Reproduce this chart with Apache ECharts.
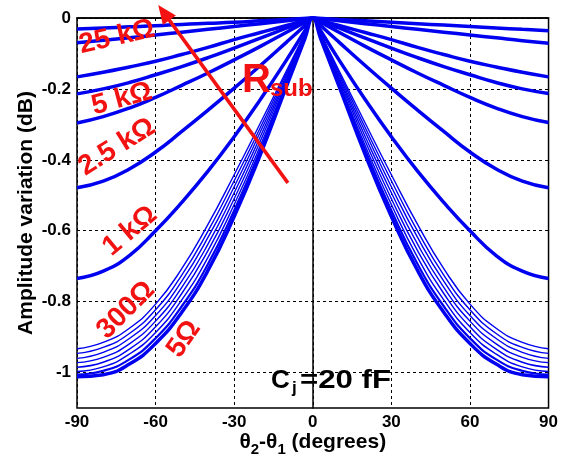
<!DOCTYPE html>
<html><head><meta charset="utf-8">
<script src="https://cdn.jsdelivr.net/npm/echarts@6/dist/echarts.min.js"></script>
<style>html,body{margin:0;padding:0;background:#fff}#c{width:561px;height:463px}</style>
</head><body><div id="c"></div>
<script>
// ---- data ----
const theta = [-90,-80,-70,-60,-50,-40,-30,-20,-10,-3,0,3,10,20,30,40,50,60,70,80,90];
const xTicks = [-90,-60,-30,0,30,60,90];
const yTicks = [-1,-0.8,-0.6,-0.4,-0.2,0];

const curveA = [-0.031,-0.028,-0.025,-0.022,-0.018,-0.015,-0.012,-0.008,-0.004,-0.001,0,-0.001,-0.004,-0.008,-0.012,-0.016,-0.020,-0.024,-0.028,-0.032,-0.036];
const curveB = [-0.070,-0.063,-0.056,-0.048,-0.040,-0.032,-0.024,-0.016,-0.008,-0.002,0,-0.002,-0.008,-0.016,-0.024,-0.032,-0.040,-0.048,-0.056,-0.064,-0.071];
const curveC = [-0.166,-0.153,-0.138,-0.122,-0.103,-0.083,-0.061,-0.041,-0.021,-0.006,0,-0.006,-0.021,-0.041,-0.061,-0.083,-0.103,-0.122,-0.138,-0.153,-0.166];
const curveD = [-0.214,-0.200,-0.182,-0.160,-0.137,-0.112,-0.085,-0.057,-0.028,-0.008,0,-0.008,-0.028,-0.057,-0.085,-0.112,-0.137,-0.160,-0.182,-0.200,-0.213];
const curveE = [-0.296,-0.278,-0.254,-0.224,-0.190,-0.155,-0.118,-0.080,-0.040,-0.012,0,-0.012,-0.040,-0.080,-0.118,-0.155,-0.190,-0.224,-0.254,-0.278,-0.295];
const curveF = [-0.479,-0.460,-0.426,-0.378,-0.320,-0.260,-0.198,-0.134,-0.068,-0.021,0,-0.021,-0.068,-0.134,-0.198,-0.260,-0.320,-0.378,-0.426,-0.460,-0.479];
const curveG = [-0.735,-0.714,-0.670,-0.600,-0.520,-0.432,-0.335,-0.230,-0.118,-0.036,0,-0.036,-0.118,-0.230,-0.335,-0.432,-0.520,-0.600,-0.670,-0.714,-0.735];

const g300 = [-0.933,-0.915,-0.875,-0.807,-0.707,-0.582,-0.442,-0.296,-0.148,-0.044,0,-0.044,-0.148,-0.296,-0.442,-0.582,-0.707,-0.807,-0.875,-0.915,-0.933];
const g2 = [-0.946,-0.929,-0.890,-0.823,-0.725,-0.601,-0.459,-0.309,-0.154,-0.046,0,-0.046,-0.154,-0.309,-0.459,-0.601,-0.725,-0.823,-0.890,-0.929,-0.946];
const g3 = [-0.960,-0.943,-0.904,-0.839,-0.742,-0.619,-0.476,-0.321,-0.161,-0.048,0,-0.048,-0.161,-0.321,-0.476,-0.619,-0.742,-0.839,-0.904,-0.943,-0.960];
const g4 = [-0.972,-0.957,-0.919,-0.855,-0.760,-0.638,-0.493,-0.334,-0.167,-0.050,0,-0.050,-0.167,-0.334,-0.493,-0.638,-0.760,-0.855,-0.919,-0.957,-0.972];
const g5 = [-0.985,-0.971,-0.934,-0.871,-0.777,-0.656,-0.510,-0.347,-0.173,-0.052,0,-0.052,-0.173,-0.347,-0.510,-0.656,-0.777,-0.871,-0.934,-0.971,-0.985];
const g6 = [-0.997,-0.984,-0.948,-0.887,-0.795,-0.675,-0.526,-0.360,-0.180,-0.054,0,-0.054,-0.180,-0.360,-0.526,-0.675,-0.795,-0.887,-0.948,-0.984,-0.997];
const g7 = [-1.006,-0.995,-0.963,-0.903,-0.813,-0.694,-0.543,-0.372,-0.186,-0.056,0,-0.056,-0.186,-0.372,-0.543,-0.694,-0.813,-0.903,-0.963,-0.995,-1.006];
const g5ohm = [-1.012,-1.006,-0.976,-0.918,-0.830,-0.712,-0.560,-0.385,-0.192,-0.058,0,-0.058,-0.192,-0.385,-0.560,-0.712,-0.830,-0.918,-0.976,-1.006,-1.012];

const curves = [
  {name:'A', v:curveA, w:3.5}, {name:'B', v:curveB, w:3.5}, {name:'C', v:curveC, w:3.5},
  {name:'D', v:curveD, w:3.5}, {name:'E', v:curveE, w:3.5}, {name:'F', v:curveF, w:3.5},
  {name:'G', v:curveG, w:3.5},
  {name:'300', v:g300, w:1.4}, {name:'g2', v:g2, w:1.4}, {name:'g3', v:g3, w:1.4},
  {name:'g4', v:g4, w:1.4}, {name:'g5', v:g5, w:1.4}, {name:'g6', v:g6, w:1.4},
  {name:'g7', v:g7, w:2.2}, {name:'5', v:g5ohm, w:3.5}
];

const FONT = '"Liberation Sans", Arial, sans-serif';
const BLUE = '#0000f0';
const RED = '#f21212';

const chart = echarts.init(document.getElementById('c'), null, {renderer:'canvas'});
const series = curves.map(c => ({
  name: c.name, type: 'line', showSymbol: false, smooth: 0.5, silent: true,
  data: theta.map((t,i) => [t, c.v[i]]),
  lineStyle: {color: BLUE, width: c.w}, itemStyle:{color: BLUE}
}));

chart.setOption({
  animation: false,
  grid: {left: 77, right: 8, top: 18, bottom: 55, show: true, borderColor: '#000', borderWidth: 1.5, backgroundColor: '#fff'},
  xAxis: {
    type: 'value', min: xTicks[0], max: xTicks[xTicks.length-1], interval: 30,
    axisLine: {show: true, lineStyle: {color: '#000', width: 1.5}},
    axisTick: {show: false},
    axisLabel: {color: '#000', fontFamily: FONT, fontWeight: 'bold', fontSize: 17, margin: 6},
    splitLine: {show: true, lineStyle: {color: '#000', type: [3,3], width: 1}},
    name: '{t|θ}{s|2}{t|-θ}{s|1}{t| (degrees)}',
    nameLocation: 'middle', nameGap: 24, nameMoveOverlap: false,
    nameTextStyle: {color:'#000', rich: {
      t: {fontFamily: FONT, fontWeight:'bold', fontSize: 21, color:'#000', verticalAlign:'top', lineHeight: 22},
      s: {fontFamily: FONT, fontWeight:'bold', fontSize: 15, color:'#000', verticalAlign:'top', lineHeight: 16, padding:[10,0,0,0]}
    }}
  },
  yAxis: {
    type: 'value', min: -1.1, max: 0, interval: 0.1,
    axisLine: {show: true, lineStyle: {color: '#000', width: 1.5}},
    axisTick: {show: false},
    axisLabel: {color: '#000', fontFamily: FONT, fontWeight: 'bold', fontSize: 17, margin: 6,
      formatter: v => { const k = Math.round(v*10); return (k % 2 === 0) ? String(k/10) : ''; }},
    splitLine: {show: true, lineStyle: {color: ['rgba(0,0,0,0)', '#000'], type: [3,3], width: 1}},
    name: 'Amplitude variation (dB)', nameLocation: 'middle', nameRotate: 90, nameGap: 40, nameMoveOverlap: false,
    nameTextStyle: {color:'#000', fontFamily: FONT, fontWeight:'bold', fontSize: 21}
  },
  series: series
});

// annotation: Rsub arrow, from data-space endpoints
const arrowFrom = [-9.5, -0.465];
const arrowTo = [-59, 0.037];
const p0 = chart.convertToPixel({gridIndex:0}, arrowFrom);
const p1 = chart.convertToPixel({gridIndex:0}, arrowTo);
const dx = p1[0]-p0[0], dy = p1[1]-p0[1], L = Math.hypot(dx,dy);
const ux = dx/L, uy = dy/L, headL = 19, headW = 8;
const bx = p1[0]-ux*headL, by = p1[1]-uy*headL;
const txt = (s, x, y, rotDeg, size, color, extra) => Object.assign({
  type:'text', x:x, y:y, rotation: rotDeg*Math.PI/180, z: 100,
  style:{text:s, fill: color, font: 'bold '+size+'px '+FONT, align:'center', verticalAlign:'middle'}
}, extra||{});

chart.setOption({
  graphic: [
    {type:'line', z:90, shape:{x1:p0[0], y1:p0[1], x2:bx+ux*2, y2:by+uy*2}, style:{stroke: RED, lineWidth: 3.5}},
    {type:'polygon', z:90, shape:{points:[[p1[0],p1[1]],[bx - uy*headW, by + ux*headW],[bx + uy*headW, by - ux*headW]]}, style:{fill: RED}},
    txt('25 kΩ', 117, 37, 13, 28, RED),
    txt('5 kΩ', 122, 99, 15, 28, RED),
    txt('2.5 kΩ', 117, 147, 32, 28, RED),
    txt('1 kΩ', 130, 231, 40, 28, RED),
    txt('300Ω', 126, 310, 45, 28, RED),
    txt('5Ω', 184, 339, 55, 28, RED),
    {type:'text', z:100, x:242, y:81, style:{text:'R', fill:RED, font:'bold 40px '+FONT, align:'left', verticalAlign:'middle'}},
    {type:'text', z:100, x:270, y:89, style:{text:'sub', fill:RED, font:'bold 24px '+FONT, align:'left', verticalAlign:'middle'}},
    {type:'text', z:100, x:271, y:381, style:{text:'C', fill:'#000', font:'bold 26px '+FONT, align:'left', verticalAlign:'middle'}},
    {type:'text', z:100, x:292, y:388, style:{text:'j', fill:'#000', font:'bold 17px '+FONT, align:'left', verticalAlign:'middle'}},
    {type:'text', z:100, x:300, y:381, scaleX:1.2, style:{text:'=20 fF', fill:'#000', font:'bold 26px '+FONT, align:'left', verticalAlign:'middle'}}
  ]
});
</script>
</body></html>
